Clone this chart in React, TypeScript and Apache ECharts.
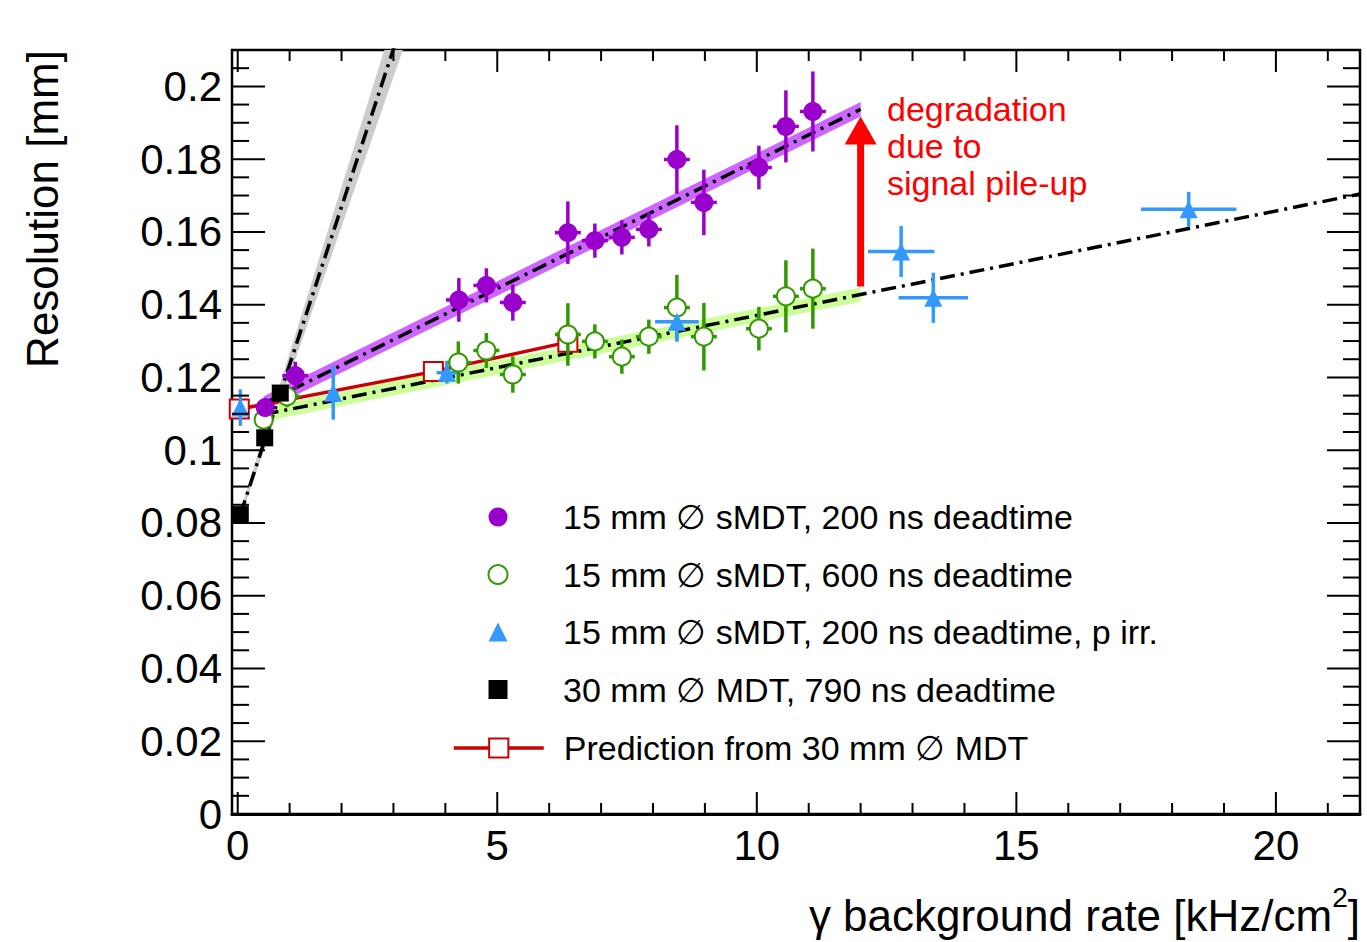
import React, { useEffect, useRef } from "react";
import * as echarts from "echarts";

const FONT = '"Liberation Sans", Arial, Helvetica, sans-serif';

// Axis ranges
const X_MIN = -0.11;
const X_MAX = 21.62;
const Y_MIN = 0;
const Y_MAX = 0.21;

// Tick positions (drawn on all four sides, ROOT style)
const xMajorTicks = [0, 5, 10, 15, 20];
const xMinorTicks = [1, 2, 3, 4, 6, 7, 8, 9, 11, 12, 13, 14, 16, 17, 18, 19, 21];
const yMajorTicks = [0, 0.02, 0.04, 0.06, 0.08, 0.1, 0.12, 0.14, 0.16, 0.18, 0.2];
const yMinorTicks = [
  0.005, 0.01, 0.015, 0.025, 0.03, 0.035, 0.045, 0.05, 0.055, 0.065, 0.07, 0.075,
  0.085, 0.09, 0.095, 0.105, 0.11, 0.115, 0.125, 0.13, 0.135, 0.145, 0.15, 0.155,
  0.165, 0.17, 0.175, 0.185, 0.19, 0.195, 0.205,
];

// Series names
const NAME_200 = "15 mm \u2205 sMDT, 200 ns deadtime";
const NAME_600 = "15 mm \u2205 sMDT, 600 ns deadtime";
const NAME_PIRR = "15 mm \u2205 sMDT, 200 ns deadtime, p irr.";
const NAME_MDT = "30 mm \u2205 MDT, 790 ns deadtime";
const NAME_PRED = "Prediction from 30 mm \u2205 MDT";

// 15 mm sMDT, 200 ns deadtime (purple)
const s200X = [0.53, 1.11, 4.26, 4.79, 5.3, 6.36, 6.88, 7.4, 7.92, 8.46, 8.98, 10.04, 10.56, 11.08];
const s200Y = [0.1117, 0.1205, 0.1413, 0.1453, 0.1406, 0.1598, 0.1576, 0.1585, 0.1607, 0.1799, 0.1681, 0.1777, 0.189, 0.1931];
const s200YErr = [0.002, 0.0038, 0.006, 0.0047, 0.005, 0.0086, 0.0047, 0.0047, 0.0047, 0.0094, 0.009, 0.006, 0.0099, 0.011];
const s200XErr = [0.15, 0.25, 0.25, 0.25, 0.25, 0.25, 0.25, 0.25, 0.25, 0.25, 0.25, 0.25, 0.25, 0.25];

// 15 mm sMDT, 600 ns deadtime (green, open)
const s600X = [0.5, 0.95, 4.25, 4.79, 5.3, 6.36, 6.88, 7.4, 7.92, 8.46, 8.98, 10.04, 10.56, 11.08];
const s600Y = [0.1084, 0.1148, 0.1241, 0.1274, 0.1208, 0.1318, 0.1299, 0.1257, 0.1312, 0.1392, 0.1312, 0.1334, 0.1423, 0.1444];
const s600YErr = [0.002, 0.003, 0.0058, 0.0048, 0.005, 0.0086, 0.0047, 0.0047, 0.0047, 0.009, 0.0093, 0.006, 0.0099, 0.011];
const s600XErr = [0.15, 0.25, 0.25, 0.25, 0.25, 0.25, 0.25, 0.25, 0.25, 0.25, 0.25, 0.25, 0.25, 0.25];

// 15 mm sMDT, 200 ns deadtime, p irr. (blue triangles)
const pirrX = [0.05, 1.84, 4.03, 8.46, 12.78, 13.4, 18.32];
const pirrY = [0.1117, 0.1158, 0.1213, 0.1353, 0.1546, 0.1419, 0.1662];
const pirrYErr = [0.005, 0.0074, 0.003, 0.0055, 0.007, 0.0069, 0.0048];
const pirrXErr = [0.05, 0.1, 0.2, 0.42, 0.64, 0.67, 0.92];

// 30 mm MDT, 790 ns deadtime (black squares)
const mdtX = [0.05, 0.52, 0.82];
const mdtY = [0.0823, 0.1034, 0.1157];

// Prediction from 30 mm MDT (red open squares + line)
const predX = [0.03, 3.77, 6.36];
const predY = [0.1113, 0.1216, 0.1297];

// Linear fits (end points) and error-band half widths
const mdtFitX = [0.05, 3.3];
const mdtFitY = [0.0823, 0.2233];
const mdtFitHalf = [0.001, 0.0084];

const s200FitX = [0.5, 12];
const s200FitY = [0.1128, 0.1937];
const s200FitHalf = [0.002, 0.002];

const s600FitX = [0.5, 12];
const s600FitY = [0.1098, 0.1428];
const s600FitHalf = [0.0019, 0.0019];

const s600ExtX = [0.5, 21.62];
const s600ExtY = [0.1098, 0.1704];

// Degradation arrow
const arrowX = [12];
const arrowFrom = [0.145];
const arrowTo = [0.1917];

const PURPLE = "#9900cc";
const PURPLE_BAND = "#cc66ff";
const GREEN = "#339900";
const GREEN_BAND = "#ccff99";
const BLUE = "#3399ff";
const RED_PRED = "#cc0000";
const RED = "#ff0000";
const GRAY_BAND = "#cccccc";

const DASHDOT = [15, 6, 3, 6];

function errorBarSeries(xs: number[], ys: number[], xErr: number[], yErr: number[], color: string, z: number) {
  return {
    type: "custom",
    z,
    silent: true,
    data: xs.map((x, i) => [x, ys[i], xErr[i], yErr[i]]),
    renderItem: (params: any, api: any) => {
      const x = api.value(0);
      const y = api.value(1);
      const ex = api.value(2);
      const ey = api.value(3);
      const a = api.coord([x, y + ey]);
      const b = api.coord([x, y - ey]);
      const l = api.coord([x - ex, y]);
      const r = api.coord([x + ex, y]);
      const style = { stroke: color, lineWidth: 3.5 };
      return {
        type: "group",
        children: [
          { type: "line", shape: { x1: a[0], y1: a[1], x2: b[0], y2: b[1] }, style },
          { type: "line", shape: { x1: l[0], y1: l[1], x2: r[0], y2: r[1] }, style },
        ],
      };
    },
  };
}

function bandSeries(xs: number[], center: number[], half: number[], color: string, z: number) {
  const data = xs.map((x, i) => [x, center[i] - half[i], center[i] + half[i]]);
  return {
    type: "custom",
    z,
    silent: true,
    clip: true,
    data,
    renderItem: (params: any, api: any) => {
      if (params.dataIndex !== 0) return null;
      const upper = data.map((d) => api.coord([d[0], d[2]]));
      const lower = data.map((d) => api.coord([d[0], d[1]])).reverse();
      return { type: "polygon", shape: { points: upper.concat(lower) }, style: { fill: color } };
    },
  };
}

function fitLineSeries(xs: number[], ys: number[], z: number) {
  return {
    type: "line",
    z,
    silent: true,
    symbol: "none",
    showSymbol: false,
    clip: true,
    data: xs.map((x, i) => [x, ys[i]]),
    lineStyle: { color: "#000", width: 3.5, type: DASHDOT },
  };
}

const tickData = [
  ...xMajorTicks.map((v) => [v, Y_MIN, 0]),
  ...xMinorTicks.map((v) => [v, Y_MIN, 1]),
  ...yMajorTicks.map((v) => [X_MIN, v, 2]),
  ...yMinorTicks.map((v) => [X_MIN, v, 3]),
];

const legendText = {
  fontSize: 34,
  fontFamily: FONT,
  color: "#000",
  lineHeight: 19,
};

function buildOption() {
  return {
    animation: false,
    backgroundColor: "#ffffff",
    textStyle: { fontFamily: FONT },
    grid: {
      left: 232,
      top: 50,
      right: 7,
      bottom: 128,
      show: true,
      borderColor: "#000",
      borderWidth: 2.5,
      backgroundColor: "transparent",
    },
    xAxis: {
      type: "value",
      min: X_MIN,
      max: X_MAX,
      minInterval: 5,
      maxInterval: 5,
      axisLine: { show: true, onZero: false, lineStyle: { color: "#000", width: 3 } },
      axisTick: { show: false },
      splitLine: { show: false },
      axisLabel: {
        fontSize: 42,
        color: "#000",
        fontFamily: FONT,
        margin: 10,
        showMinLabel: false,
        showMaxLabel: false,
      },
    },
    yAxis: {
      type: "value",
      min: Y_MIN,
      max: Y_MAX,
      interval: 0.02,
      axisLine: { show: false, onZero: false },
      axisTick: { show: false },
      splitLine: { show: false },
      axisLabel: {
        fontSize: 42,
        color: "#000",
        fontFamily: FONT,
        margin: 10,
        showMinLabel: true,
        showMaxLabel: false,
        formatter: (v: number) => String(Number(v.toFixed(3))),
      },
    },
    legend: [
      {
        data: [NAME_200, NAME_600, NAME_PIRR, NAME_MDT],
        orient: "vertical",
        left: 487.5,
        top: 500,
        padding: 0,
        itemWidth: 19,
        itemHeight: 19,
        itemGap: 23.5,
        selectedMode: false,
        textStyle: { ...legendText, padding: [0, 0, 0, 50.5] },
      },
      {
        data: [NAME_PRED],
        orient: "vertical",
        left: 452,
        top: 731,
        padding: 0,
        itemWidth: 90,
        itemHeight: 24,
        selectedMode: false,
        lineStyle: { width: 3.5, color: RED_PRED },
        textStyle: { ...legendText, padding: [0, 0, 0, 15] },
      },
    ],
    graphic: [
      {
        type: "text",
        x: 42,
        y: 50,
        rotation: Math.PI / 2,
        style: {
          text: "Resolution [mm]",
          fontSize: 44,
          fontFamily: FONT,
          fill: "#000",
          align: "right",
          verticalAlign: "middle",
        },
      },
      {
        type: "text",
        x: 1360,
        y: 915,
        style: {
          text: "{a|\u03b3 background rate [kHz/cm}{s|2}{a|]}",
          align: "right",
          verticalAlign: "middle",
          fill: "#000",
          rich: {
            a: { fontSize: 44, fontFamily: FONT, fill: "#000", lineHeight: 64 },
            s: { fontSize: 28, fontFamily: FONT, fill: "#000", lineHeight: 28, verticalAlign: "top" },
          },
        },
      },
      {
        type: "text",
        x: 887,
        y: 90,
        style: {
          text: "degradation\ndue to\nsignal pile-up",
          fontSize: 34,
          lineHeight: 37,
          fontFamily: FONT,
          fill: RED,
          align: "left",
          verticalAlign: "top",
        },
      },
    ],
    series: [
      // axis ticks, all four sides
      {
        type: "custom",
        z: 8,
        silent: true,
        clip: false,
        data: tickData,
        renderItem: (params: any, api: any) => {
          const cs = params.coordSys;
          const kind = api.value(2);
          const p = api.coord([api.value(0), api.value(1)]);
          const style = { stroke: "#000", lineWidth: 2 };
          if (kind <= 1) {
            const len = kind === 0 ? 22 : 11;
            const yb = cs.y + cs.height;
            return {
              type: "group",
              children: [
                { type: "line", shape: { x1: p[0], y1: yb, x2: p[0], y2: yb - len }, style },
                { type: "line", shape: { x1: p[0], y1: cs.y, x2: p[0], y2: cs.y + len }, style },
              ],
            };
          }
          const len = kind === 2 ? 33 : 17;
          const xr = cs.x + cs.width;
          return {
            type: "group",
            children: [
              { type: "line", shape: { x1: cs.x, y1: p[1], x2: cs.x + len, y2: p[1] }, style },
              { type: "line", shape: { x1: xr, y1: p[1], x2: xr - len, y2: p[1] }, style },
            ],
          };
        },
      },
      // fit error bands
      bandSeries(mdtFitX, mdtFitY, mdtFitHalf, GRAY_BAND, 1),
      bandSeries(s200FitX, s200FitY, s200FitHalf, PURPLE_BAND, 1),
      bandSeries(s600FitX, s600FitY, s600FitHalf, GREEN_BAND, 1),
      // fit lines
      fitLineSeries(mdtFitX, mdtFitY, 2),
      fitLineSeries(s200FitX, s200FitY, 2),
      fitLineSeries(s600ExtX, s600ExtY, 2),
      // degradation arrow
      {
        type: "custom",
        z: 3,
        silent: true,
        data: arrowX.map((x, i) => [x, arrowFrom[i], arrowTo[i]]),
        renderItem: (params: any, api: any) => {
          const x = api.value(0);
          const b = api.coord([x, api.value(1)]);
          const t = api.coord([x, api.value(2)]);
          const headLen = 28;
          const headHalf = 16;
          const shaftHalf = 3.5;
          return {
            type: "group",
            children: [
              {
                type: "rect",
                shape: { x: b[0] - shaftHalf, y: t[1] + headLen - 1, width: shaftHalf * 2, height: b[1] - (t[1] + headLen - 1) },
                style: { fill: RED },
              },
              {
                type: "polygon",
                shape: { points: [[t[0], t[1]], [t[0] - headHalf, t[1] + headLen], [t[0] + headHalf, t[1] + headLen]] },
                style: { fill: RED },
              },
            ],
          };
        },
      },
      // prediction line
      {
        name: NAME_PRED,
        type: "line",
        z: 3,
        data: predX.map((x, i) => [x, predY[i]]),
        symbol: "emptyRect",
        symbolSize: 19,
        showSymbol: true,
        color: RED_PRED,
        lineStyle: { color: RED_PRED, width: 3.5 },
        itemStyle: { color: RED_PRED, borderWidth: 2, opacity: 1 },
      },
      // error bars
      errorBarSeries(s600X, s600Y, s600XErr, s600YErr, GREEN, 4),
      errorBarSeries(s200X, s200Y, s200XErr, s200YErr, PURPLE, 4),
      errorBarSeries(pirrX, pirrY, pirrXErr, pirrYErr, BLUE, 4),
      // markers
      {
        name: NAME_600,
        type: "scatter",
        z: 5,
        data: s600X.map((x, i) => [x, s600Y[i]]),
        symbol: "emptyCircle",
        symbolSize: 18,
        color: GREEN,
        itemStyle: { color: GREEN, borderWidth: 2.5, opacity: 1 },
      },
      {
        name: NAME_200,
        type: "scatter",
        z: 5,
        data: s200X.map((x, i) => [x, s200Y[i]]),
        symbol: "circle",
        symbolSize: 19,
        color: PURPLE,
        itemStyle: { color: PURPLE, opacity: 1 },
      },
      {
        name: NAME_PIRR,
        type: "scatter",
        z: 5,
        data: pirrX.map((x, i) => [x, pirrY[i]]),
        symbol: "triangle",
        symbolSize: 18,
        color: BLUE,
        itemStyle: { color: BLUE, opacity: 1 },
      },
      {
        name: NAME_MDT,
        type: "scatter",
        z: 6,
        data: mdtX.map((x, i) => [x, mdtY[i]]),
        symbol: "rect",
        symbolSize: 17,
        color: "#000",
        itemStyle: { color: "#000", opacity: 1 },
      },
    ],
  };
}

export default function App() {
  const ref = useRef<HTMLDivElement>(null);
  useEffect(() => {
    if (!ref.current) return;
    const chart = echarts.init(ref.current, undefined, { renderer: "svg" });
    chart.setOption(buildOption() as any);
    return () => chart.dispose();
  }, []);
  return (
    <div
      ref={ref}
      style={{ position: "absolute", left: 0, top: 0, width: 1367, height: 942, background: "#fff" }}
    />
  );
}
